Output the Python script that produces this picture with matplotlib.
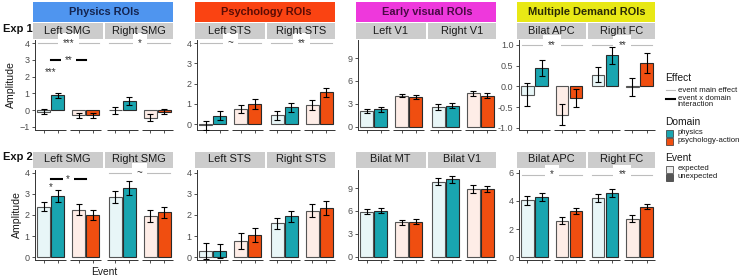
import numpy as np
import matplotlib.pyplot as plt
import matplotlib.transforms as mtrans
from matplotlib.patches import Rectangle
from matplotlib.lines import Line2D

plt.rcParams['font.family'] = ['Liberation Sans', 'DejaVu Sans']

# ---- data (bar order per group: ROI1 phys exp/unexp, psych exp/unexp, ROI2 same) ----
group_names = ["Physics ROIs", "Psychology ROIs", "Early visual ROIs", "Multiple Demand ROIs"]
rois_exp1 = [["Left SMG", "Right SMG"], ["Left STS", "Right STS"],
             ["Left V1", "Right V1"], ["Bilat APC", "Right FC"]]
rois_exp2 = [["Left SMG", "Right SMG"], ["Left STS", "Right STS"],
             ["Bilat MT", "Bilat V1"], ["Bilat APC", "Right FC"]]

exp1_physics_mean = [-0.10, 0.88, -0.30, -0.30, 0.00, 0.55, -0.45, -0.10]
exp1_physics_err = [0.15, 0.17, 0.15, 0.15, 0.20, 0.25, 0.20, 0.15]
exp1_psych_mean = [-0.05, 0.42, 0.75, 1.00, 0.45, 0.85, 0.95, 1.57]
exp1_psych_err = [0.22, 0.22, 0.20, 0.25, 0.22, 0.22, 0.25, 0.22]
exp1_visual_mean = [2.1, 2.3, 4.1, 3.9, 2.6, 2.75, 4.4, 4.1]
exp1_visual_err = [0.3, 0.3, 0.2, 0.25, 0.35, 0.33, 0.33, 0.3]
exp1_md_mean = [-0.20, 0.45, -0.68, -0.28, 0.28, 0.75, -0.01, 0.57]
exp1_md_err = [0.28, 0.19, 0.25, 0.21, 0.18, 0.21, 0.21, 0.24]

exp2_physics_mean = [2.4, 2.9, 2.25, 2.0, 2.85, 3.28, 1.95, 2.13]
exp2_physics_err = [0.2, 0.3, 0.26, 0.24, 0.3, 0.32, 0.27, 0.26]
exp2_psych_mean = [0.3, 0.3, 0.78, 1.05, 1.6, 1.95, 2.2, 2.33]
exp2_psych_err = [0.37, 0.33, 0.38, 0.33, 0.28, 0.26, 0.3, 0.32]
exp2_visual_mean = [5.9, 6.05, 4.5, 4.6, 9.8, 10.15, 8.85, 8.85]
exp2_visual_err = [0.3, 0.35, 0.3, 0.3, 0.45, 0.45, 0.5, 0.43]
exp2_md_mean = [4.05, 4.3, 2.6, 3.3, 4.2, 4.55, 2.75, 3.6]
exp2_md_err = [0.33, 0.3, 0.25, 0.2, 0.3, 0.3, 0.28, 0.18]

exp1_ticks = [[-1, 0, 1, 2, 3, 4], [0, 1, 2, 3, 4], [0, 3, 6, 9], [-1.0, -0.5, 0.0, 0.5, 1.0]]
exp2_ticks = [[0, 1, 2, 3, 4], [0, 1, 2, 3, 4], [0, 3, 6, 9], [0, 2, 4, 6]]
exp1_ticklabels = [None, None, None, ["-1.0", "-0.5", "0.0", "0.5", "1.0"]]
exp2_ticklabels = [None, None, None, None]

# significance: (row, group, roi, label, y)
main_effects = [(0, 0, 0, "***", 4.0), (0, 0, 1, "*", 4.0),
                (0, 1, 0, "~", 4.0), (0, 1, 1, "**", 4.0),
                (0, 3, 0, "**", 1.0), (0, 3, 1, "**", 1.0),
                (1, 0, 1, "~", 4.0), (1, 3, 0, "*", 5.88), (1, 3, 1, "**", 5.88)]
interactions = [(0, 0, 0, "**", 3.0), (1, 0, 0, "*", 3.72)]
simple_effects = [(0, 0, 0, "***", 2.25), (1, 0, 0, "*", 3.35)]

# ---- style ----
W, H = 740, 277
phys_col = "#19A5B0"
psych_col = "#F04E10"
group_strip = ["#4F95EF", "#FA4312", "#EE38DC", "#E8E815"]
group_text = ["#14244F", "#5A0C05", "#4A0A46", "#2A2A05"]
group_px = [(35, 173), (197, 335), (358, 496), (519, 655)]
rows_px = [(40, 130), (170, 260)]
ylims = [[(-1.18, 4.18), (-0.28, 4.15), (-0.4, 11.35), (-1.05, 1.12)],
         [(-0.14, 4.14), (-0.14, 4.14), (-0.4, 11.35), (-0.2, 6.2)]]

SUBW = 2.2
starts = [0.0, 2.45, 5.0, 7.45]
XMAX = 9.65


def light(c, a=0.1):
    rgb = np.array(plt.matplotlib.colors.to_rgb(c))
    return tuple(1 - a * (1 - rgb))


fig = plt.figure(figsize=(W / 100, H / 100), dpi=100)

means = [[exp1_physics_mean, exp1_psych_mean, exp1_visual_mean, exp1_md_mean],
         [exp2_physics_mean, exp2_psych_mean, exp2_visual_mean, exp2_md_mean]]
errs = [[exp1_physics_err, exp1_psych_err, exp1_visual_err, exp1_md_err],
        [exp2_physics_err, exp2_psych_err, exp2_visual_err, exp2_md_err]]
rois = [rois_exp1, rois_exp2]
ticks = [exp1_ticks, exp2_ticks]
ticklabels = [exp1_ticklabels, exp2_ticklabels]

xs = np.array([starts[i // 2] + 0.6 + i % 2 for i in range(8)])
fills = []
edges = []
for i in range(8):
    c = phys_col if (i // 2) % 2 == 0 else psych_col
    fills.append(light(c) if i % 2 == 0 else c)
    edges.append("#555555" if i % 2 == 0 else "#2A2A2A")

axes = {}
for r in range(2):
    y0, y1 = rows_px[r]
    for g in range(4):
        x0, x1 = group_px[g]
        ax = fig.add_axes([x0 / W, 1 - y1 / H, (x1 - x0) / W, (y1 - y0) / H])
        axes[(r, g)] = ax
        ax.bar(xs, means[r][g], width=0.9, color=fills, edgecolor=edges, linewidth=0.8, zorder=2)
        ax.errorbar(xs, means[r][g], yerr=errs[r][g], fmt="none", ecolor="black",
                    elinewidth=0.8, capsize=2.2, capthick=0.8, zorder=3)
        ax.set_xlim(0, XMAX)
        ax.set_ylim(*ylims[r][g])
        ax.set_yticks(ticks[r][g])
        if ticklabels[r][g] is not None:
            ax.set_yticklabels(ticklabels[r][g])
        ax.set_xticks(xs)
        ax.set_xticklabels([])
        ax.tick_params(axis="both", labelsize=6.5, colors="#333333", labelcolor="#4D4D4D",
                       length=2.5, width=0.6, pad=1.5)
        for s in ["top", "right", "bottom"]:
            ax.spines[s].set_visible(False)
        ax.spines["left"].set_color("#333333")
        ax.spines["left"].set_linewidth(0.7)
        ax.patch.set_alpha(0)

        tr = mtrans.blended_transform_factory(ax.transData, ax.transAxes)
        ph = y1 - y0
        # bottom axis segments per domain
        for s in starts:
            ax.plot([s, s + SUBW], [0, 0], transform=tr, color="#333333", lw=0.7,
                    clip_on=False, solid_capstyle="butt")
        # ROI strips
        top_gap = 1 if r == 0 else 2
        for f in range(2):
            left = starts[2 * f] - (0.15 if f == 0 else 0.1)
            right = starts[2 * f + 1] + SUBW + (0.08 if f == 0 else 0.0)
            ax.add_patch(Rectangle((left, 1 + top_gap / ph), right - left, 16 / ph, transform=tr,
                                   facecolor="#CCCCCC", edgecolor="none", clip_on=False))
            ax.text((left + right) / 2, 1 + (top_gap + 8.5) / ph, rois[r][g][f], transform=tr,
                    ha="center", va="center", fontsize=7.9, color="#1A1A1A")
        if r == 0:
            ax.add_patch(Rectangle((-0.15, 1 + 18 / ph), XMAX + 0.15, 20 / ph, transform=tr,
                                   facecolor=group_strip[g], edgecolor="none", clip_on=False))
            ax.text(XMAX / 2, 1 + 28.5 / ph, group_names[g], transform=tr, ha="center",
                    va="center", fontsize=7.9, fontweight="bold", color=group_text[g])
        if g == 0:
            ax.set_ylabel("Amplitude", fontsize=7.6, color="#1A1A1A", labelpad=2)

# significance markers
for (r, g, f, lab, y) in main_effects:
    ax = axes[(r, g)]
    a = starts[2 * f] + 0.2
    b = starts[2 * f + 1] + SUBW - 0.2
    ax.plot([a, b], [y, y], color="#BDBDBD", lw=0.8, zorder=1, clip_on=False)
    ax.text((a + b) / 2, y, lab, ha="center", va="center", fontsize=7, color="#333333",
            bbox=dict(boxstyle="square,pad=0.5", fc="white", ec="none"), zorder=2)
for (r, g, f, lab, y) in interactions:
    ax = axes[(r, g)]
    a = starts[2 * f] + 1.1
    b = starts[2 * f + 1] + 1.1
    ax.plot([a, b], [y, y], color="black", lw=1.5, zorder=1, clip_on=False)
    ax.text((a + b) / 2, y, lab, ha="center", va="center", fontsize=7, color="#333333",
            bbox=dict(boxstyle="square,pad=0.35", fc="white", ec="none"), zorder=2)
for (r, g, f, lab, y) in simple_effects:
    ax = axes[(r, g)]
    ax.text(starts[2 * f] + 1.1, y, lab, ha="center", va="center", fontsize=7, color="#333333")

# row labels and x label
fig.text(3 / W, 1 - 29 / H, "Exp 1", fontsize=8, fontweight="bold", va="center", color="#111111")
fig.text(3 / W, 1 - 157 / H, "Exp 2", fontsize=8, fontweight="bold", va="center", color="#111111")
fig.text(104 / W, 1 - 272 / H, "Event", fontsize=7.4, ha="center", va="center", color="#1A1A1A")


# ---- legend ----
def px(x, y):
    return (x / W, 1 - y / H)


lx = 665
fs_t, fs_e = 7.4, 5.6
fig.text(*px(lx, 78), "Effect", fontsize=fs_t, va="center", color="#1A1A1A")
fig.add_artist(Line2D([px(lx + 1, 0)[0], px(lx + 10, 0)[0]], [px(0, 90)[1]] * 2, color="#BDBDBD", lw=0.8))
fig.text(*px(lx + 13, 90), "event main effect", fontsize=fs_e, va="center", color="#1A1A1A")
fig.add_artist(Line2D([px(lx + 1, 0)[0], px(lx + 10, 0)[0]], [px(0, 99)[1]] * 2, color="black", lw=1.5))
fig.text(*px(lx + 13, 101.5), "event x domain\ninteraction", fontsize=fs_e, va="center",
         color="#1A1A1A", linespacing=0.8)
fig.text(*px(lx, 122), "Domain", fontsize=fs_t, va="center", color="#1A1A1A")
for k, (lab, c) in enumerate([("physics", phys_col), ("psychology-action", psych_col)]):
    yy = 133 + 8 * k
    fig.add_artist(Rectangle(px(lx + 1, yy + 3.5), 7 / W, 7 / H, facecolor=c, edgecolor="#333333",
                             lw=0.5, transform=fig.transFigure))
    fig.text(*px(lx + 13, yy), lab, fontsize=fs_e, va="center", color="#1A1A1A")
fig.text(*px(lx, 158), "Event", fontsize=fs_t, va="center", color="#1A1A1A")
for k, (lab, c) in enumerate([("expected", "#EBEBEB"), ("unexpected", "#555555")]):
    yy = 169 + 8 * k
    fig.add_artist(Rectangle(px(lx + 1, yy + 3.5), 7 / W, 7 / H, facecolor=c, edgecolor="#333333",
                             lw=0.5, transform=fig.transFigure))
    fig.text(*px(lx + 13, yy), lab, fontsize=fs_e, va="center", color="#1A1A1A")

fig.savefig("out.png", dpi=100)
